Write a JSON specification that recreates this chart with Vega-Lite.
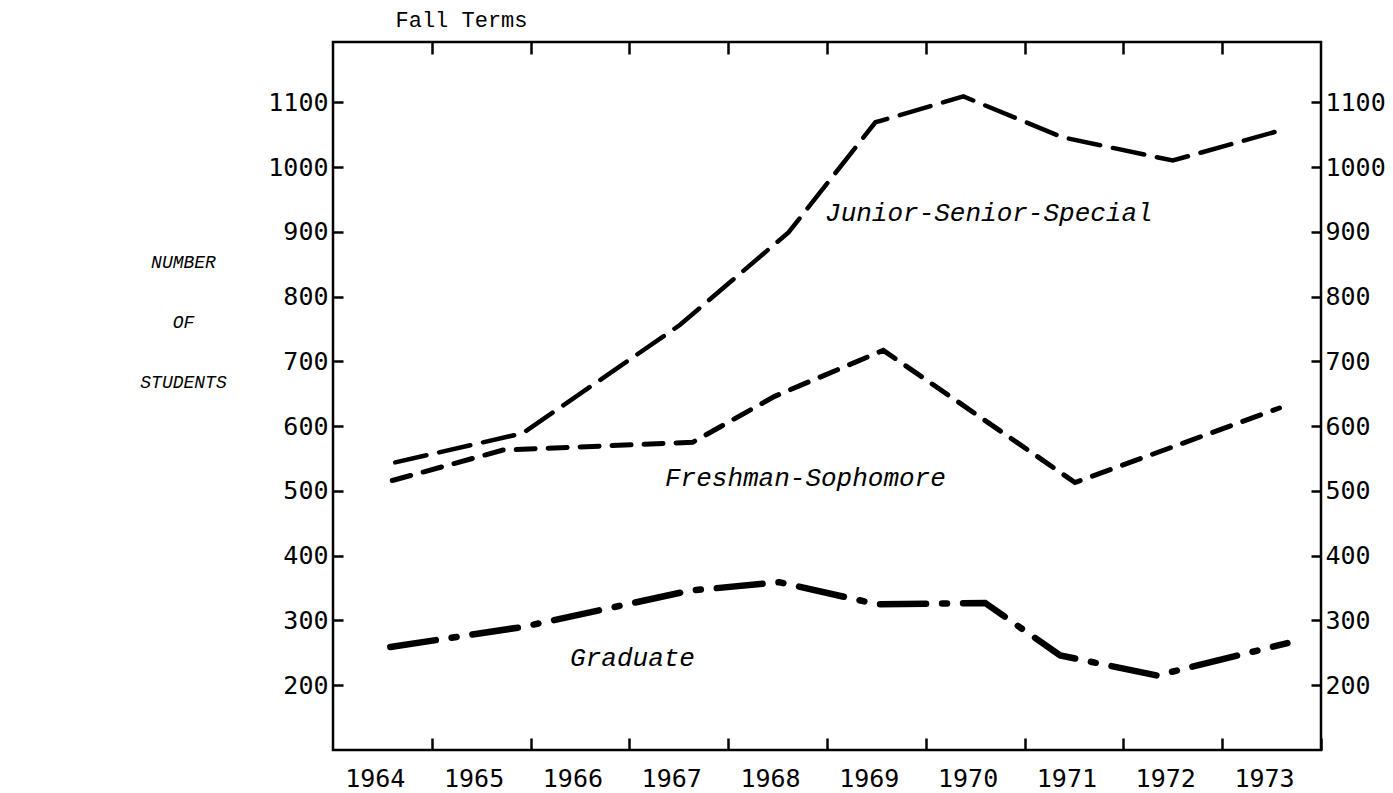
{
  "$schema": "https://vega.github.io/schema/vega-lite/v6.json",
  "width": 988,
  "height": 708,
  "autosize": {"type": "none"},
  "padding": {"left": 333, "top": 42, "right": 72, "bottom": 43},
  "background": "white",
  "config": {
    "view": {"stroke": "black", "strokeWidth": 2.5},
    "axis": {
      "domain": false,
      "grid": false,
      "tickColor": "black",
      "tickWidth": 2.5,
      "labelColor": "black",
      "labelFont": "DejaVu Sans Mono",
      "labelFontSize": 25,
      "labelFlush": false,
      "labelOverlap": false,
      "titleColor": "black"
    }
  },
  "datasets": {
    "enrollment": [
      {"group": "Junior-Senior-Special", "year": 1964.13, "students": 544},
      {"group": "Junior-Senior-Special", "year": 1965.42, "students": 589},
      {"group": "Junior-Senior-Special", "year": 1967.01, "students": 756},
      {"group": "Junior-Senior-Special", "year": 1968.11, "students": 899},
      {"group": "Junior-Senior-Special", "year": 1968.99, "students": 1069},
      {"group": "Junior-Senior-Special", "year": 1969.88, "students": 1109},
      {"group": "Junior-Senior-Special", "year": 1970.88, "students": 1046},
      {"group": "Junior-Senior-Special", "year": 1972.0, "students": 1010},
      {"group": "Junior-Senior-Special", "year": 1973.03, "students": 1054},
      {"group": "Freshman-Sophomore", "year": 1964.1, "students": 516},
      {"group": "Freshman-Sophomore", "year": 1965.22, "students": 563},
      {"group": "Freshman-Sophomore", "year": 1967.14, "students": 575},
      {"group": "Freshman-Sophomore", "year": 1967.97, "students": 646},
      {"group": "Freshman-Sophomore", "year": 1969.07, "students": 717},
      {"group": "Freshman-Sophomore", "year": 1971.01, "students": 513},
      {"group": "Freshman-Sophomore", "year": 1973.08, "students": 628},
      {"group": "Graduate", "year": 1964.08, "students": 259},
      {"group": "Graduate", "year": 1965.42, "students": 290},
      {"group": "Graduate", "year": 1967.11, "students": 346},
      {"group": "Graduate", "year": 1968.02, "students": 359},
      {"group": "Graduate", "year": 1969.01, "students": 325},
      {"group": "Graduate", "year": 1970.1, "students": 327},
      {"group": "Graduate", "year": 1970.86, "students": 246},
      {"group": "Graduate", "year": 1971.84, "students": 215},
      {"group": "Graduate", "year": 1973.16, "students": 265}
    ],
    "labels": [
      {"label": "Junior-Senior-Special", "year": 1968.48, "students": 929},
      {"label": "Freshman-Sophomore", "year": 1966.86, "students": 520},
      {"label": "Graduate", "year": 1965.9, "students": 242}
    ]
  },
  "layer": [
    {
      "data": {"name": "enrollment"},
      "transform": [{"filter": "datum.group === 'Junior-Senior-Special'"}],
      "mark": {"type": "line", "stroke": "black", "strokeWidth": 4.5, "strokeDash": [32, 13], "strokeCap": "round"},
      "encoding": {
        "x": {
          "field": "year", "type": "quantitative",
          "scale": {"domain": [1963.5, 1973.5], "nice": false, "zero": false},
          "axis": {
            "orient": "bottom",
            "values": [1964, 1965, 1966, 1967, 1968, 1969, 1970, 1971, 1972, 1973],
            "format": "d",
            "tickOffset": 49.4,
            "labelOffset": -57,
            "tickSize": -12,
            "labelPadding": 28,
            "title": null
          }
        },
        "y": {
          "field": "students", "type": "quantitative",
          "scale": {"domain": [100, 1193], "nice": false, "zero": false},
          "axis": {
            "orient": "left",
            "values": [200, 300, 400, 500, 600, 700, 800, 900, 1000, 1100],
            "format": "d",
            "tickSize": -10,
            "labelPadding": 15,
            "title": ["NUMBER", "OF", "STUDENTS"],
            "titleAngle": 0,
            "titleAlign": "center",
            "titleBaseline": "middle",
            "titleLineHeight": 60,
            "titleX": -150,
            "titleY": 220,
            "titleFont": "Liberation Mono",
            "titleFontStyle": "italic",
            "titleFontWeight": "normal",
            "titleFontSize": 18
          }
        }
      }
    },
    {
      "data": {"name": "enrollment"},
      "transform": [{"filter": "datum.group === 'Freshman-Sophomore'"}],
      "mark": {"type": "line", "stroke": "black", "strokeWidth": 5, "strokeDash": [19, 13], "strokeCap": "round"},
      "encoding": {
        "x": {
          "field": "year", "type": "quantitative",
          "axis": {
            "orient": "top",
            "values": [1964, 1965, 1966, 1967, 1968, 1969, 1970, 1971, 1972],
            "tickOffset": 49.4,
            "tickSize": -12,
            "labels": false,
            "title": "Fall Terms",
            "titleFont": "Liberation Mono",
            "titleFontWeight": "normal",
            "titleFontSize": 22,
            "titleAngle": 0,
            "titleAlign": "left",
            "titleBaseline": "middle",
            "titleX": 62,
            "titleY": -23
          }
        },
        "y": {
          "field": "students", "type": "quantitative",
          "axis": {
            "orient": "right",
            "values": [200, 300, 400, 500, 600, 700, 800, 900, 1000, 1100],
            "format": "d",
            "tickSize": -10,
            "labelPadding": 14,
            "title": null
          }
        }
      }
    },
    {
      "data": {"name": "enrollment"},
      "transform": [{"filter": "datum.group === 'Graduate'"}],
      "mark": {"type": "line", "stroke": "black", "strokeWidth": 6.5, "strokeDash": [46, 16, 5, 16], "strokeCap": "round"},
      "encoding": {
        "x": {"field": "year", "type": "quantitative", "axis": null},
        "y": {"field": "students", "type": "quantitative", "axis": null}
      }
    },
    {
      "data": {"name": "labels"},
      "mark": {"type": "text", "align": "left", "baseline": "middle", "font": "Liberation Mono", "fontStyle": "italic", "fontSize": 26, "color": "black"},
      "encoding": {
        "x": {"field": "year", "type": "quantitative", "axis": null},
        "y": {"field": "students", "type": "quantitative", "axis": null},
        "text": {"field": "label"}
      }
    }
  ],
  "resolve": {"axis": {"x": "independent", "y": "independent"}}
}
